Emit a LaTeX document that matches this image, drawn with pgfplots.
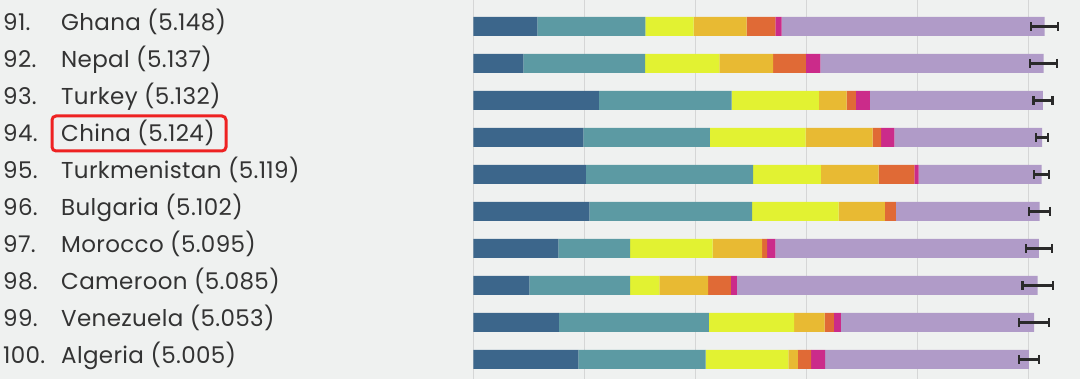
\documentclass[border=0pt]{standalone}
\usepackage{pgfplots}
\pgfplotsset{compat=1.18}
\usepackage{pgfplotstable}
\usepackage{fontspec}
\setmainfont{Poppins}[LetterSpace=1.5]
\definecolor{bg}{HTML}{EFF1F0}
\definecolor{gridc}{HTML}{D5D6D6}
\definecolor{cgdp}{HTML}{3C668B}
\definecolor{csoc}{HTML}{5C9AA3}
\definecolor{chl}{HTML}{E2F232}
\definecolor{cfr}{HTML}{E8BA33}
\definecolor{cgen}{HTML}{E06A36}
\definecolor{ccor}{HTML}{CB2B8A}
\definecolor{cdys}{HTML}{B09BC8}
\definecolor{errc}{HTML}{2A2A2A}
\definecolor{txt}{HTML}{333333}
\definecolor{hl}{HTML}{EE2222}
\pgfplotstableread{
y gdp soc hlth free gen corr dys
0 0.577 0.974 0.433 0.478 0.259 0.057 2.370
-1 0.450 1.099 0.667 0.486 0.295 0.129 2.011
-2 1.132 1.195 0.787 0.249 0.084 0.126 1.559
-3 0.991 1.141 0.862 0.604 0.075 0.120 1.331
-4 1.015 1.507 0.610 0.520 0.321 0.040 1.106
-5 1.045 1.468 0.778 0.417 0.099 0.000 1.295
-6 0.766 0.646 0.745 0.444 0.045 0.075 2.374
-7 0.505 0.907 0.264 0.439 0.205 0.054 2.711
-8 0.772 1.351 0.768 0.274 0.084 0.063 1.741
-9 0.946 1.148 0.744 0.085 0.120 0.126 1.836
}\data
\pgfplotstableread{
y total err
0 5.148 0.123
-1 5.137 0.125
-2 5.132 0.086
-3 5.124 0.053
-4 5.119 0.066
-5 5.102 0.096
-6 5.095 0.118
-7 5.085 0.138
-8 5.053 0.135
-9 5.005 0.090
}\errdata
\begin{document}
\begin{tikzpicture}
\fill[bg] (0,0) rectangle (1080pt,379pt);
\useasboundingbox (0,0) rectangle (1080pt,379pt);
\begin{axis}[at={(473.3pt,0pt)}, anchor=south west, scale only axis,
  width=606.7pt, height=379pt, xmin=0, xmax=5.4658, ymin=-9.527, ymax=0.716,
  xbar stacked, bar width=19pt,
  axis line style={draw=none}, tick style={draw=none},
  xtick={0,1,2,3,4,5}, ytick=\empty, xticklabels={},
  xmajorgrids, grid style={color=gridc, line width=1.4pt}, clip=false]
\addplot[fill=cgdp, draw=none] table[x=gdp, y=y] {\data};
\addplot[fill=csoc, draw=none] table[x=soc, y=y] {\data};
\addplot[fill=chl, draw=none] table[x=hlth, y=y] {\data};
\addplot[fill=cfr, draw=none] table[x=free, y=y] {\data};
\addplot[fill=cgen, draw=none] table[x=gen, y=y] {\data};
\addplot[fill=ccor, draw=none] table[x=corr, y=y] {\data};
\addplot[fill=cdys, draw=none] table[x=dys, y=y] {\data};
\end{axis}
\begin{axis}[at={(473.3pt,0pt)}, anchor=south west, scale only axis,
  width=606.7pt, height=379pt, xmin=0, xmax=5.4658, ymin=-9.527, ymax=0.716,
  hide axis, clip=false]
\addplot[draw=none, mark=none,
  error bars/.cd, x dir=both, x explicit, error mark=|,
  error bar style={line width=2.2pt, draw=errc, solid},
  error mark options={line width=2.2pt, mark size=4.5pt, draw=errc, solid}]
  table[x=total, y=y, x error=err] {\errdata};
\end{axis}
\begin{scope}[color=txt, font=\fontsize{23}{27}\selectfont]
\node[anchor=base west, inner sep=0] at (3pt,348.3pt) {91.};
\node[anchor=base west, inner sep=0] at (61pt,348.3pt) {Ghana (5.148)};
\node[anchor=base west, inner sep=0] at (3pt,311.3pt) {92.};
\node[anchor=base west, inner sep=0] at (61pt,311.3pt) {Nepal (5.137)};
\node[anchor=base west, inner sep=0] at (3pt,274.3pt) {93.};
\node[anchor=base west, inner sep=0] at (61pt,274.3pt) {Turkey (5.132)};
\node[anchor=base west, inner sep=0] at (3pt,237.3pt) {94.};
\node[anchor=base west, inner sep=0] at (61pt,237.3pt) {China (5.124)};
\node[anchor=base west, inner sep=0] at (3pt,200.3pt) {95.};
\node[anchor=base west, inner sep=0] at (61pt,200.3pt) {Turkmenistan (5.119)};
\node[anchor=base west, inner sep=0] at (3pt,163.3pt) {96.};
\node[anchor=base west, inner sep=0] at (61pt,163.3pt) {Bulgaria (5.102)};
\node[anchor=base west, inner sep=0] at (3pt,126.3pt) {97.};
\node[anchor=base west, inner sep=0] at (61pt,126.3pt) {Morocco (5.095)};
\node[anchor=base west, inner sep=0] at (3pt,89.3pt) {98.};
\node[anchor=base west, inner sep=0] at (61pt,89.3pt) {Cameroon (5.085)};
\node[anchor=base west, inner sep=0] at (3pt,52.3pt) {99.};
\node[anchor=base west, inner sep=0] at (61pt,52.3pt) {Venezuela (5.053)};
\node[anchor=base west, inner sep=0] at (3pt,15.3pt) {100.};
\node[anchor=base west, inner sep=0] at (61pt,15.3pt) {Algeria (5.005)};
\end{scope}
\draw[hl, line width=3pt, rounded corners=4pt] (52pt,228pt) rectangle (226pt,263pt);
\end{tikzpicture}
\end{document}
